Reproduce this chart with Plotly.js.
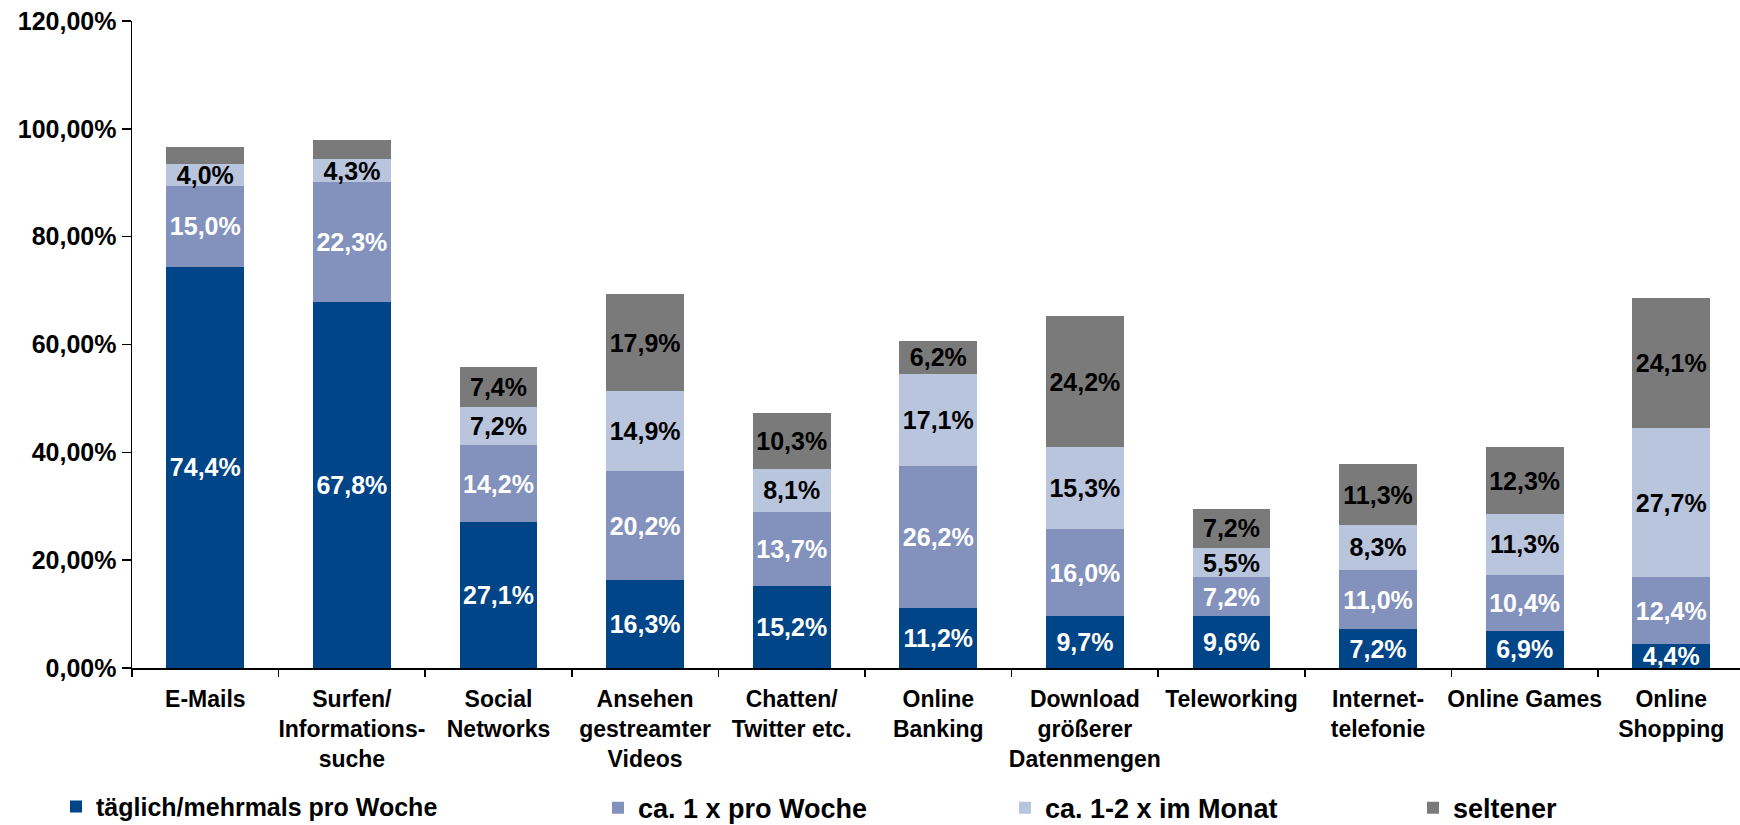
<!DOCTYPE html>
<html>
<head>
<meta charset="utf-8">
<script src="https://cdn.plot.ly/plotly-3.0.1.min.js"></script>
<style>
  html, body { margin: 0; padding: 0; background: #ffffff; }
  #chart { width: 1740px; height: 825px; }
</style>
</head>
<body>
<div id="chart"></div>
<script>
// ---- Data ----
const categories = [
  "E-Mails",
  "Surfen/<br>Informations-<br>suche",
  "Social<br>Networks",
  "Ansehen<br>gestreamter<br>Videos",
  "Chatten/<br>Twitter etc.",
  "Online<br>Banking",
  "Download<br>größerer<br>Datenmengen",
  "Teleworking",
  "Internet-<br>telefonie",
  "Online Games",
  "Online<br>Shopping"
];
const seriesNames = [
  "täglich/mehrmals pro Woche",
  "ca. 1 x pro Woche",
  "ca. 1-2 x im Monat",
  "seltener"
];
const taeglich   = [74.4, 67.8, 27.1, 16.3, 15.2, 11.2,  9.7, 9.6,  7.2,  6.9,  4.4];
const woechentl  = [15.0, 22.3, 14.2, 20.2, 13.7, 26.2, 16.0, 7.2, 11.0, 10.4, 12.4];
const monatlich  = [ 4.0,  4.3,  7.2, 14.9,  8.1, 17.1, 15.3, 5.5,  8.3, 11.3, 27.7];
const seltener   = [ 3.3,  3.5,  7.4, 17.9, 10.3,  6.2, 24.2, 7.2, 11.3, 12.3, 24.1];
const yTicks = [0, 20, 40, 60, 80, 100, 120];

// ---- Styling ----
const colors = ["#004587", "#8392BD", "#B9C4DD", "#7A7A7A"];
const labelColors = ["#ffffff", "#ffffff", "#000000", "#000000"];
const FONT = "Liberation Sans, Arial, sans-serif";

function fmt(v) {
  // labels are shown for all segments except the two tiny unlabeled ones
  return v >= 4 ? v.toFixed(1).replace(".", ",") + "%" : "";
}
const yTickText = yTicks.map(t => t.toFixed(2).replace(".", ",") + "%");

const allSeries = [taeglich, woechentl, monatlich, seltener];
const legendIds = ["legend", "legend2", "legend3", "legend4"];

const traces = allSeries.map((vals, i) => ({
  type: "bar",
  name: seriesNames[i],
  x: categories,
  y: vals,
  text: vals.map(fmt),
  texttemplate: "%{text}",
  textposition: "inside",
  insidetextanchor: "middle",
  textangle: 0,
  constraintext: "none",
  cliponaxis: false,
  textfont: { family: FONT, size: 25, color: labelColors[i], weight: "bold" },
  marker: { color: colors[i], line: { width: 0 } },
  hoverinfo: "skip",
  legend: legendIds[i]
}));

const legendBase = (xpx, fs) => ({
  xref: "container", yref: "container",
  x: xpx / 1740, y: 0.05, xanchor: "left", yanchor: "top",
  orientation: "h",
  bgcolor: "rgba(0,0,0,0)",
  borderwidth: 0,
  itemwidth: 30,
  font: { family: FONT, size: fs, color: "#000000", weight: "bold" }
});

const layout = {
  width: 1740,
  height: 825,
  paper_bgcolor: "#ffffff",
  plot_bgcolor: "#ffffff",
  separators: ", ",
  barmode: "stack",
  bargap: 0.47,
  margin: { l: 132, r: 0, t: 21, b: 157, pad: 0, autoexpand: false },
  font: { family: FONT, color: "#000000" },
  xaxis: {
    type: "category",
    range: [-0.5, 10.469],
    automargin: false,
    showline: true,
    linecolor: "#000000",
    linewidth: 1.5,
    ticks: "outside",
    tickson: "boundaries",
    ticklen: 7,
    tickwidth: 1.5,
    tickcolor: "#000000",
    tickangle: 0,
    showgrid: false,
    zeroline: false,
    ticklabelstandoff: 10,
    tickfont: { family: FONT, size: 23, color: "#000000", weight: "bold" },
    fixedrange: true
  },
  yaxis: {
    range: [0, 120],
    automargin: false,
    tickmode: "array",
    tickvals: yTicks,
    ticktext: yTickText,
    showline: true,
    linecolor: "#000000",
    linewidth: 1.5,
    ticks: "outside",
    ticklen: 9,
    tickwidth: 1.5,
    tickcolor: "#000000",
    showgrid: false,
    zeroline: false,
    tickfont: { family: FONT, size: 25, color: "#000000", weight: "bold" },
    fixedrange: true
  },
  legend: legendBase(56, 25),
  legend2: legendBase(598, 27),
  legend3: legendBase(1005, 27),
  legend4: legendBase(1413, 27),
  showlegend: true
};

Plotly.newPlot("chart", traces, layout, { staticPlot: true, displayModeBar: false });
</script>
</body>
</html>
